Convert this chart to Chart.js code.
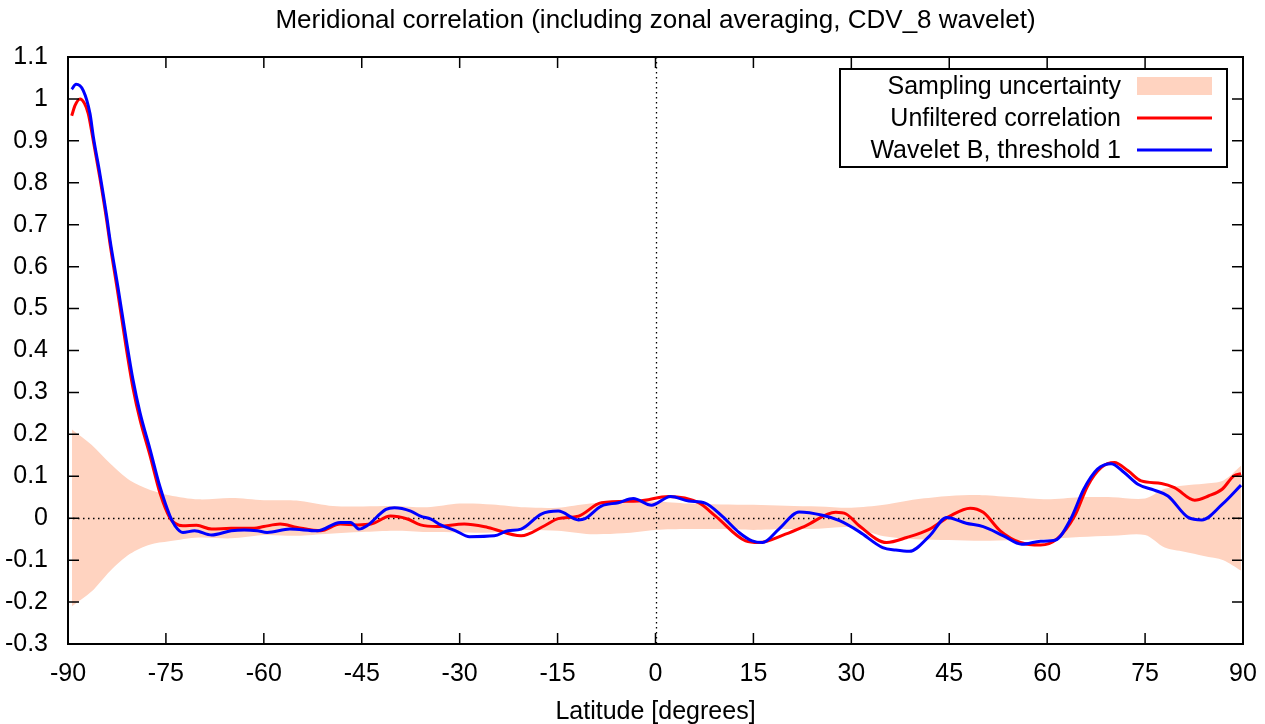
<!DOCTYPE html>
<html>
<head>
<meta charset="utf-8">
<script src="https://cdn.jsdelivr.net/npm/chart.js@4"></script>
<style>
  body { margin: 0; background: #fff; }
  #wrap { width: 1265px; height: 724px; }
</style>
</head>
<body>
<div id="wrap"><canvas id="grafica"></canvas></div>
<script>
// latitude grid and values
const bandLat   = [-89.4, -86.4, -83.5, -80.5, -77.5, -74.5, -70, -65, -60, -55, -50, -45, -40, -35, -30, -25, -20, -15, -10, -5,
                   0, 5, 10, 15, 20, 25, 30, 35, 40, 45, 50, 55, 60, 65, 70, 75, 78, 81, 84, 87, 89.7];
const bandUpper = [0.212, 0.175, 0.13, 0.09, 0.068, 0.055, 0.045, 0.048, 0.043, 0.042, 0.03, 0.028, 0.029, 0.026, 0.035, 0.033, 0.026, 0.025, 0.035, 0.038,
                   0.04, 0.035, 0.033, 0.032, 0.03, 0.028, 0.025, 0.032, 0.045, 0.053, 0.055, 0.05, 0.045, 0.05, 0.05, 0.047, 0.07, 0.078, 0.082, 0.09, 0.125];
const bandLower = [-0.21, -0.175, -0.125, -0.085, -0.063, -0.055, -0.046, -0.048, -0.04, -0.042, -0.037, -0.033, -0.03, -0.033, -0.034, -0.034, -0.028, -0.03, -0.038, -0.036,
                   -0.028, -0.026, -0.026, -0.028, -0.026, -0.025, -0.022, -0.043, -0.05, -0.052, -0.054, -0.052, -0.05, -0.045, -0.042, -0.04, -0.07, -0.08, -0.09, -0.1, -0.125];

const unfilteredLat = [-89.43, -88.9, -88.16, -87.5, -86.9, -86.12, -85.1, -84.07, -83.57, -82.34, -81.12, -80.04, -78.97, -77.44, -75.91, -74.37, -73.6, -72.4,
                       -70.3, -68, -65, -61.5, -60, -57.5, -54.9, -51.3, -48.3, -45.7, -43.6, -40.6, -38, -36, -33.5, -29.3, -25.7, -20.6, -17, -14.9,
                       -11.8, -8.3, -2.6, 2, 6.6, 9.2, 13.8, 15.8, 19.9, 23, 27.6, 29.2, 31.2, 35.4, 38.5, 42, 45.1, 48.2, 50.2, 52.8,
                       55.9, 59, 61.6, 64.2, 66.2, 68.3, 70.3, 72.4, 74.4, 77.5, 79.5, 82.6, 84.7, 86.8, 88.6, 89.7];
const unfilteredVal = [0.96, 0.985, 1.0, 0.99, 0.965, 0.9, 0.81, 0.71, 0.655, 0.535, 0.41, 0.31, 0.235, 0.15, 0.06, 0.0, -0.012, -0.018,
                       -0.017, -0.026, -0.024, -0.024, -0.02, -0.014, -0.022, -0.03, -0.014, -0.016, -0.014, 0.005, -0.002, -0.016, -0.02, -0.014, -0.022, -0.042, -0.018, -0.001,
                       0.005, 0.037, 0.041, 0.052, 0.037, 0.005, -0.054, -0.058, -0.038, -0.018, 0.014, 0.01, -0.018, -0.058, -0.046, -0.026, 0.005, 0.024, 0.014, -0.03,
                       -0.058, -0.064, -0.048, 0.005, 0.077, 0.121, 0.133, 0.113, 0.089, 0.083, 0.073, 0.043, 0.053, 0.069, 0.101, 0.106];

const waveletLat = [-89.43, -88.77, -87.66, -86.63, -86.12, -85.1, -84.07, -83.57, -82.34, -81.12, -80.04, -78.97, -77.44, -75.91, -74.37, -73.6, -72.4, -70.6,
                    -68, -65, -63, -61, -59.5, -56, -51.8, -48.3, -46.7, -45.4, -44.2, -41.3, -40, -37.5, -36, -34.4, -32.9, -30.6, -28.5, -24.7,
                    -22.6, -20.6, -17.5, -14.9, -11.8, -10.8, -8.3, -5.7, -3.4, -0.6, 2.3, 5.1, 7.6, 10.2, 12.8, 14.8, 16.4, 18.9, 22, 25.6,
                    28.2, 31.2, 34.8, 36.8, 38.9, 42, 44.6, 47.6, 50.2, 53.3, 56.1, 59, 61.3, 63.6, 65.6, 67.7, 69.8, 71.8, 73.9, 76.4,
                    78.5, 81.6, 83.7, 86.8, 89.7];
const waveletVal = [1.023, 1.035, 1.02, 0.965, 0.91, 0.82, 0.72, 0.665, 0.55, 0.43, 0.33, 0.252, 0.165, 0.075, 0.005, -0.018, -0.034, -0.03,
                    -0.04, -0.03, -0.028, -0.03, -0.034, -0.026, -0.03, -0.01, -0.01, -0.026, -0.018, 0.021, 0.025, 0.017, 0.005, -0.002, -0.016, -0.03, -0.044, -0.042,
                    -0.03, -0.026, 0.01, 0.017, -0.004, -0.001, 0.029, 0.037, 0.047, 0.031, 0.052, 0.041, 0.036, 0.005, -0.034, -0.054, -0.058, -0.026, 0.015, 0.007,
                    -0.006, -0.032, -0.07, -0.076, -0.079, -0.042, 0.002, -0.012, -0.02, -0.042, -0.062, -0.055, -0.052, -0.002, 0.069, 0.117, 0.13, 0.109, 0.081, 0.067,
                    0.053, 0.002, -0.004, 0.033, 0.079];

const xTickValues = [-90, -75, -60, -45, -30, -15, 0, 15, 30, 45, 60, 75, 90];
const yTickValues = [-0.3, -0.2, -0.1, 0, 0.1, 0.2, 0.3, 0.4, 0.5, 0.6, 0.7, 0.8, 0.9, 1, 1.1];

const chartTitle = 'Meridional correlation (including zonal averaging, CDV_8 wavelet)';
const legendLabels = ['Sampling uncertainty', 'Unfiltered correlation', 'Wavelet B, threshold 1'];

const FONT = '"Liberation Sans", Arial, sans-serif';
const BAND_COLOR = '#ffd3c0';
const RED = '#ff0000';
const BLUE = '#0000ff';

function pares(xs, ys) {
	return xs.map((x, i) => ({ x: x, y: ys[i] }));
}

// title over the plot, frame, inward ticks on all four sides, dotted zero lines, legend box
const marco = {
	id: 'marco',
	beforeDatasetsDraw(chart) {
		const { ctx, chartArea: a, scales: { x, y } } = chart;
		ctx.save();
		ctx.strokeStyle = '#000';
		ctx.lineWidth = 1.3;
		ctx.setLineDash([1.5, 3.5]);
		const y0 = Math.round(y.getPixelForValue(0)) + 0.5;
		const x0 = Math.round(x.getPixelForValue(0)) + 0.5;
		ctx.beginPath();
		ctx.moveTo(a.left, y0); ctx.lineTo(a.right, y0);
		ctx.moveTo(x0, a.top); ctx.lineTo(x0, a.bottom);
		ctx.stroke();
		ctx.restore();
	},
	afterDraw(chart) {
		const { ctx, chartArea: a, scales: { x, y } } = chart;
		ctx.save();
		ctx.fillStyle = '#000';
		ctx.font = '26px ' + FONT;
		ctx.textAlign = 'center';
		ctx.textBaseline = 'middle';
		ctx.fillText(chartTitle, (a.left + a.right) / 2, 21);

		ctx.strokeStyle = '#000';
		ctx.lineWidth = 1.5;
		const t = 11;
		ctx.beginPath();
		xTickValues.forEach(v => {
			const px = x.getPixelForValue(v);
			ctx.moveTo(px, a.bottom); ctx.lineTo(px, a.bottom - t);
			ctx.moveTo(px, a.top); ctx.lineTo(px, a.top + t);
		});
		yTickValues.forEach(v => {
			const py = y.getPixelForValue(v);
			ctx.moveTo(a.left, py); ctx.lineTo(a.left + t, py);
			ctx.moveTo(a.right, py); ctx.lineTo(a.right - t, py);
		});
		ctx.stroke();
		ctx.lineWidth = 2;
		ctx.strokeRect(a.left, a.top, a.right - a.left, a.bottom - a.top);

		// legend
		const bx = 840, by = 69, bw = 387, bh = 98;
		ctx.fillStyle = '#fff';
		ctx.fillRect(bx, by, bw, bh);
		ctx.strokeRect(bx, by, bw, bh);
		ctx.font = '25px ' + FONT;
		ctx.textAlign = 'right';
		ctx.fillStyle = '#000';
		const rows = [86, 118, 150];
		legendLabels.forEach((txt, i) => ctx.fillText(txt, 1121, rows[i] + 1));
		ctx.fillStyle = BAND_COLOR;
		ctx.fillRect(1137, rows[0] - 9, 75, 18);
		ctx.lineWidth = 3;
		ctx.strokeStyle = RED;
		ctx.beginPath(); ctx.moveTo(1137, rows[1]); ctx.lineTo(1212, rows[1]); ctx.stroke();
		ctx.strokeStyle = BLUE;
		ctx.beginPath(); ctx.moveTo(1137, rows[2]); ctx.lineTo(1212, rows[2]); ctx.stroke();
		ctx.restore();
	}
};

document.addEventListener('DOMContentLoaded', function() {
	const ctx = document.getElementById('grafica');
	Chart.defaults.color = '#000';
	Chart.defaults.font.family = FONT;
	Chart.defaults.font.size = 25;

	new Chart(ctx, {
		type: 'line',
		data: {
			datasets: [
				{
					label: 'upper',
					data: pares(bandLat, bandUpper),
					borderWidth: 0,
					pointRadius: 0,
					backgroundColor: BAND_COLOR,
					fill: '+1',
					tension: 0.3,
					order: 4
				},
				{
					label: 'lower',
					data: pares(bandLat, bandLower),
					borderWidth: 0,
					pointRadius: 0,
					fill: false,
					tension: 0.3,
					order: 3
				},
				{
					label: legendLabels[1],
					data: pares(unfilteredLat, unfilteredVal),
					borderColor: RED,
					borderWidth: 3,
					pointRadius: 0,
					cubicInterpolationMode: 'monotone',
					fill: false,
					order: 2
				},
				{
					label: legendLabels[2],
					data: pares(waveletLat, waveletVal),
					borderColor: BLUE,
					borderWidth: 3,
					pointRadius: 0,
					cubicInterpolationMode: 'monotone',
					fill: false,
					order: 1
				}
			]
		},
		options: {
			responsive: true,
			maintainAspectRatio: false,
			animation: false,
			layout: { padding: { left: 0, right: 22, top: 57, bottom: 0 } },
			plugins: {
				legend: { display: false },
				tooltip: { enabled: false },
				filler: { drawTime: 'beforeDatasetsDraw' },
				title: { display: false }
			},
			scales: {
				x: {
					type: 'linear',
					min: -90,
					max: 90,
					afterBuildTicks: s => { s.ticks = xTickValues.map(v => ({ value: v })); },
					afterFit: s => { s.height = 80; s.paddingLeft = 0; s.paddingRight = 0; },
					grid: { display: false },
					border: { display: false },
					ticks: { padding: 7, maxRotation: 0, autoSkip: false },
					title: {
						display: true,
						text: 'Latitude [degrees]',
						padding: { top: 4, bottom: -3 }
					}
				},
				y: {
					min: -0.3,
					max: 1.1,
					afterBuildTicks: s => { s.ticks = yTickValues.map(v => ({ value: v })); },
					afterFit: s => { s.width = 68; s.paddingTop = 0; s.paddingBottom = 0; },
					grid: { display: false },
					border: { display: false },
					ticks: {
						padding: 12,
						autoSkip: false,
						callback: v => String(Math.round(v * 10) / 10)
					}
				}
			}
		},
		plugins: [marco]
	});
});
</script>
</body>
</html>
